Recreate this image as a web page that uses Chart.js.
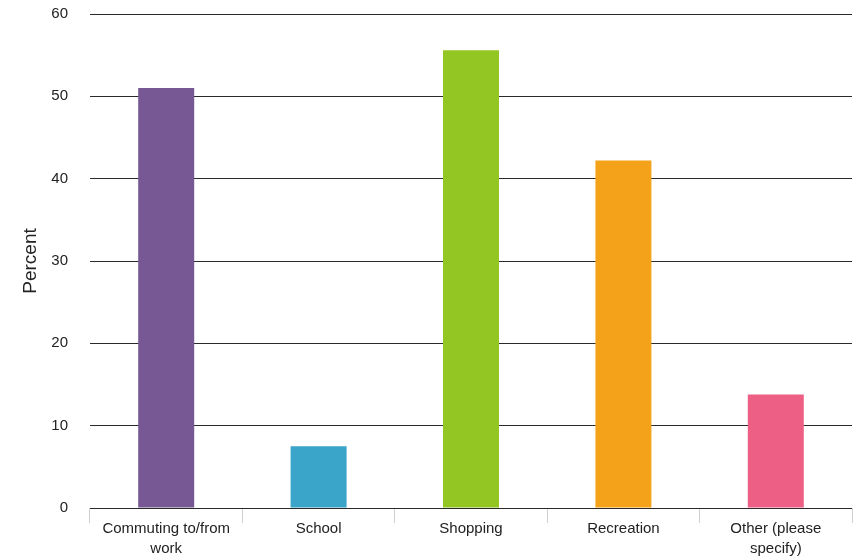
<!DOCTYPE html>
<html>
<head>
<meta charset="utf-8">
<script src="https://cdn.jsdelivr.net/npm/chart.js@4"></script>
<style>
  html, body { margin: 0; padding: 0; background: #ffffff; }
  #wrap { width: 865px; height: 560px; position: relative; }
</style>
</head>
<body>
<div id="wrap"><canvas id="c" width="865" height="560"></canvas></div>
<script>
const categories = [["Commuting to/from", "work"], "School", "Shopping", "Recreation", ["Other (please", "specify)"]];
const percentValues = [51.0, 7.5, 55.6, 42.2, 13.8];
const barColors = ["#775894", "#3ba4c9", "#93c623", "#f5a21b", "#ee5f86"];
const yTicks = [0, 10, 20, 30, 40, 50, 60];
const yTitle = "Percent";

const FONT = "'Liberation Sans', Arial, Helvetica, sans-serif";

new Chart(document.getElementById('c'), {
  type: 'bar',
  data: {
    labels: categories,
    datasets: [{
      data: percentValues,
      backgroundColor: barColors,
      borderWidth: 0,
      barPercentage: 0.3675,
      categoryPercentage: 1.0
    }]
  },
  options: {
    responsive: false,
    animation: false,
    devicePixelRatio: 1,
    layout: { padding: { top: 14, right: 13, bottom: 0, left: 0 } },
    plugins: { legend: { display: false }, tooltip: { enabled: false } },
    scales: {
      x: {
        grid: { display: true, drawOnChartArea: false, drawTicks: true, tickLength: 15, color: '#cfcfcf', offset: true },
        border: { display: false },
        ticks: { color: '#222', font: { family: FONT, size: 15, lineHeight: '20px' }, padding: -4, maxRotation: 0, autoSkip: false },
        afterFit: (s) => { s.height = 52; }
      },
      y: {
        min: 0, max: 60,
        afterBuildTicks: (s) => { s.ticks = yTicks.map(v => ({ value: v })); },
        grid: { color: '#2a2a2a', lineWidth: 1, drawTicks: true, tickLength: 22, tickColor: 'rgba(0,0,0,0)' },
        border: { display: false },
        ticks: { color: '#222', font: { family: FONT, size: 15 }, padding: 0 },
        title: { display: true, text: yTitle, color: '#222', font: { family: FONT, size: 19 }, padding: { top: 19, bottom: 0 } },
        afterFit: (s) => { s.width = 90; }
      }
    }
  }
});
</script>
</body>
</html>
